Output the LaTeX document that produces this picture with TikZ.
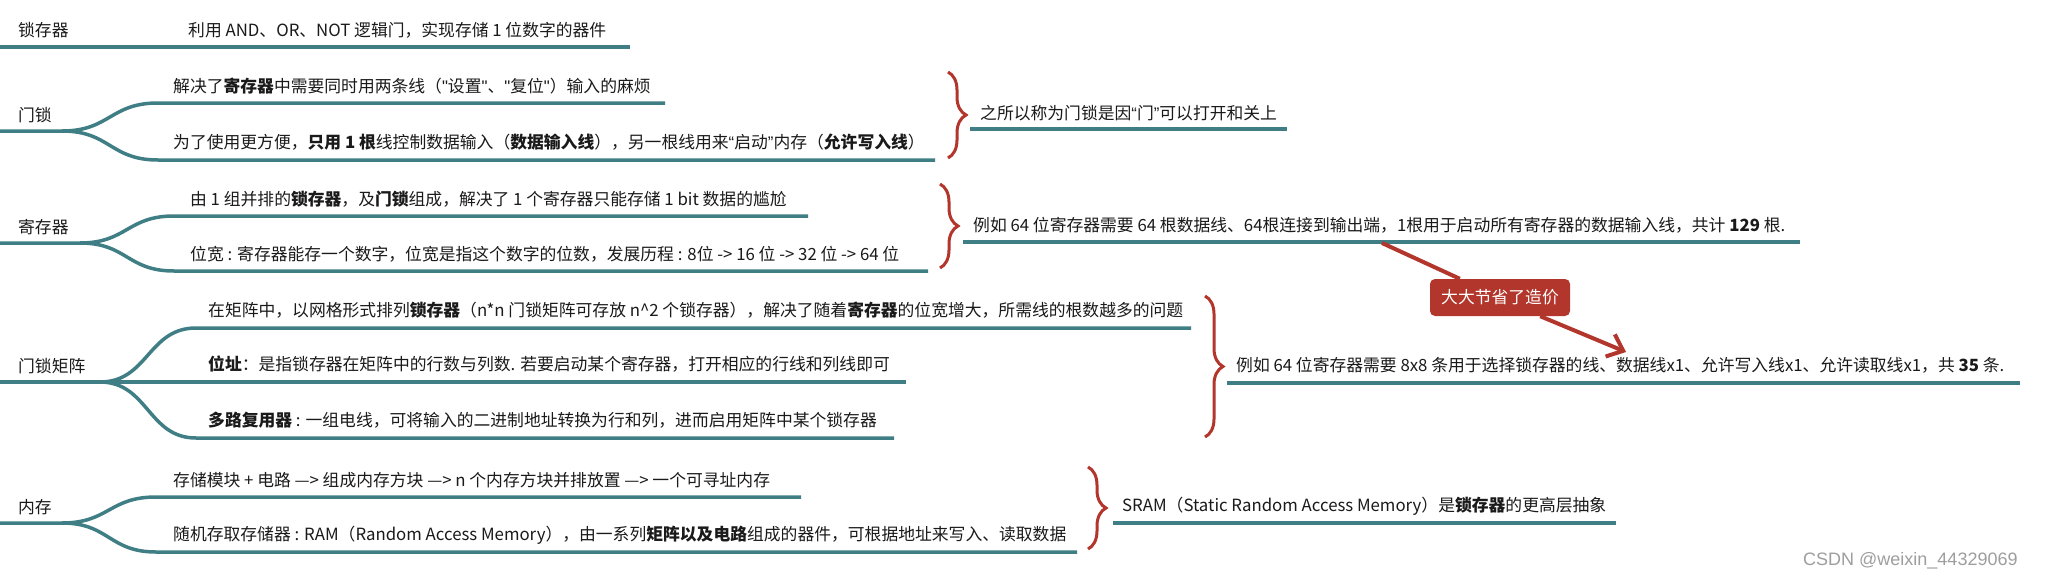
\documentclass[tikz,border=0pt]{standalone}
\usepackage{fontspec}
\setmainfont{Noto Sans CJK SC}
\newfontfamily\wmfont{Liberation Sans}
\newcommand{\qmark}[1]{{\wmfont #1}}
\usetikzlibrary{decorations.pathreplacing,arrows.meta,calc}
\definecolor{tealline}{HTML}{3F7E84}
\definecolor{redmark}{HTML}{B2362C}
\definecolor{txtcol}{HTML}{1A1A1A}
\begin{document}
\begin{tikzpicture}[x=1pt,y=-1pt,
  txt/.style={anchor=west, inner sep=0pt, font=\fontsize{16.8}{20}\selectfont, text=txtcol},
  branch/.style={draw=tealline, line width=3.5pt},
  bracestyle/.style={draw=redmark, line width=3pt, decorate, decoration={brace, amplitude=18pt}},
  callout/.style={fill=redmark, rounded corners=5pt, text=white, inner sep=0pt, minimum width=140pt, minimum height=37pt, font=\fontsize{16.8}{20}\selectfont},
  redline/.style={draw=redmark, line width=4pt}
]
\useasboundingbox[fill=white] (0,0) rectangle (2050,578);

% ---------- 锁存器 ----------
\node[txt] (a0) at (18,30) {锁存器};
\node[txt] (a1) at (188,30) {利用 AND、OR、NOT 逻辑门，实现存储 1 位数字的器件};
\coordinate (a0s) at (0,47);
\coordinate (a1e) at (630,47);
\draw[branch] (a0s) -- (a1e);

% ---------- 门锁 ----------
\node[txt] (b0) at (18,115) {门锁};
\node[txt] (b1) at (173,86) {解决了\textbf{寄存器}中需要同时用两条线（\qmark{\textquotedbl}设置\qmark{\textquotedbl}、\qmark{\textquotedbl}复位\qmark{\textquotedbl}）输入的麻烦};
\node[txt] (b2) at (173,142) {为了使用更方便，\textbf{只用 1 根}线控制数据输入（\textbf{数据输入线}），另一根线用来\qmark{“}启动\qmark{”}内存（\textbf{允许写入线}）};
\coordinate (b0s) at (0,131);
\coordinate (b0j) at (62,131);
\coordinate (b1s) at (158,103);
\coordinate (b1e) at (665,103);
\coordinate (b2s) at (158,160);
\coordinate (b2e) at (935,160);
\draw[branch] (b0s) -- (b0j) .. controls +(48,0) and +(-48,0) .. (b1s) -- (b1e);
\draw[branch] (b0j) .. controls +(48,0) and +(-48,0) .. (b2s) -- (b2e);
\coordinate (bbt) at (948,72);
\coordinate (bbb) at (948,158);
\draw[bracestyle] (bbt) -- (bbb);
\node[txt] (bs) at (980,113) {之所以称为门锁是因\qmark{“}门\qmark{”}可以打开和关上};
\coordinate (bus) at (970,129);
\coordinate (bue) at (1287,129);
\draw[branch] (bus) -- (bue);

% ---------- 寄存器 ----------
\node[txt] (c0) at (18,227) {寄存器};
\node[txt] (c1) at (190,199) {由 1 组并排的\textbf{锁存器}，及\textbf{门锁}组成，解决了 1 个寄存器只能存储 1 bit 数据的尴尬};
\node[txt] (c2) at (190,254) {位宽 : 寄存器能存一个数字，位宽是指这个数字的位数，发展历程 : 8位 -> 16 位 -> 32 位 -> 64 位};
\coordinate (c0s) at (0,243);
\coordinate (c0j) at (80,243);
\coordinate (c1s) at (174,216);
\coordinate (c1e) at (808,216);
\coordinate (c2s) at (174,271);
\coordinate (c2e) at (928,271);
\draw[branch] (c0s) -- (c0j) .. controls +(47,0) and +(-47,0) .. (c1s) -- (c1e);
\draw[branch] (c0j) .. controls +(47,0) and +(-47,0) .. (c2s) -- (c2e);
\coordinate (cbt) at (940,184);
\coordinate (cbb) at (940,268);
\draw[bracestyle] (cbt) -- (cbb);
\node[txt] (cs) at (973,225) {例如 64 位寄存器需要 64 根数据线、64根连接到输出端，1根用于启动所有寄存器的数据输入线，共计 \textbf{129} 根.};
\coordinate (cus) at (963,242);
\coordinate (cue) at (1800,242);
\draw[branch] (cus) -- (cue);

% ---------- 门锁矩阵 ----------
\node[txt] (d0) at (18,366) {门锁矩阵};
\node[txt] (d1) at (208,310) {在矩阵中，以网格形式排列\textbf{锁存器}（n*n 门锁矩阵可存放 n\textasciicircum 2 个锁存器），解决了随着\textbf{寄存器}的位宽增大，所需线的根数越多的问题};
\node[txt] (d2) at (208,364) {\textbf{位址}：是指锁存器在矩阵中的行数与列数. 若要启动某个寄存器，打开相应的行线和列线即可};
\node[txt] (d3) at (208,420) {\textbf{多路复用器} : 一组电线，可将输入的二进制地址转换为行和列，进而启用矩阵中某个锁存器};
\coordinate (d0s) at (0,382);
\coordinate (d0j) at (100,382);
\coordinate (d1s) at (196,328);
\coordinate (d1e) at (1191,328);
\coordinate (d2e) at (906,382);
\coordinate (d3s) at (196,438);
\coordinate (d3e) at (894,438);
\draw[branch] (d0s) -- (d2e);
\draw[branch] (d0j) .. controls +(48,0) and +(-48,0) .. (d1s) -- (d1e);
\draw[branch] (d0j) .. controls +(48,0) and +(-48,0) .. (d3s) -- (d3e);
\coordinate (dbt) at (1205,296);
\coordinate (dbb) at (1205,437);
\draw[bracestyle] (dbt) -- (dbb);
\node[txt] (ds) at (1236,365) {例如 64 位寄存器需要 8x8 条用于选择锁存器的线、数据线x1、允许写入线x1、允许读取线x1，共 \textbf{35} 条.};
\coordinate (dus) at (1227,383);
\coordinate (due) at (2020,383);
\draw[branch] (dus) -- (due);

% ---------- 内存 ----------
\node[txt] (e0) at (18,507) {内存};
\node[txt] (e1) at (173,480) {存储模块 + 电路 —> 组成内存方块 —> n 个内存方块并排放置 —> 一个可寻址内存};
\node[txt] (e2) at (173,535) {随机存取存储器 : RAM（Random Access Memory），由一系列\textbf{矩阵以及电路}组成的器件，可根据地址来写入、读取数据};
\coordinate (e0s) at (0,523);
\coordinate (e0j) at (62,523);
\coordinate (e1s) at (156,497);
\coordinate (e1e) at (801,497);
\coordinate (e2s) at (156,552);
\coordinate (e2e) at (1077,552);
\draw[branch] (e0s) -- (e0j) .. controls +(47,0) and +(-47,0) .. (e1s) -- (e1e);
\draw[branch] (e0j) .. controls +(47,0) and +(-47,0) .. (e2s) -- (e2e);
\coordinate (ebt) at (1088,467);
\coordinate (ebb) at (1088,549);
\draw[bracestyle] (ebt) -- (ebb);
\node[txt] (es) at (1122,506) {SRAM（Static Random Access Memory）是\textbf{锁存器}的更高层抽象};
\coordinate (eus) at (1113,523);
\coordinate (eue) at (1616,523);
\draw[branch] (eus) -- (eue);

% ---------- callout ----------
\node[callout] (cal) at (1500,297.5) {大大节省了造价};
\coordinate (calin) at (1382,243);
\coordinate (calout) at (1626,352);
\draw[redline] (calin) -- ($(cal.north west)+(30,0)$);
\draw[redline, -{Straight Barb[length=14pt,width=24pt]}] ($(cal.south east)+(-30,0)$) -- (calout);

% ---------- watermark ----------
\node[anchor=west, inner sep=0pt, font=\wmfont\fontsize{18}{20}\selectfont, text=black!38] (wm) at (1803,561) {CSDN @weixin\_44329069};
\end{tikzpicture}
\end{document}
